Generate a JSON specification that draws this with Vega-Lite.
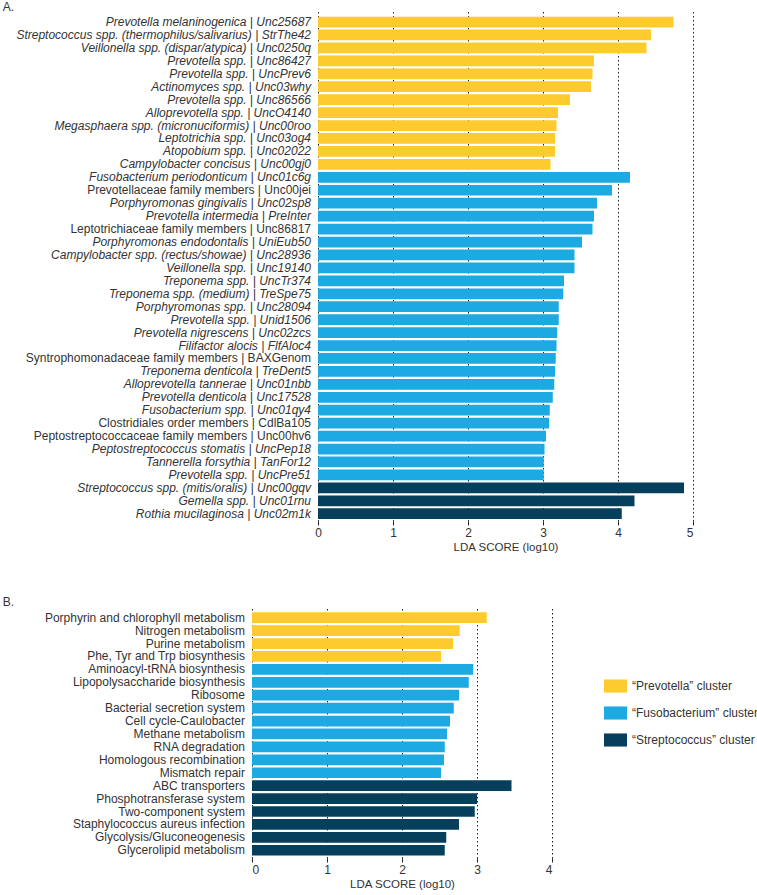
{
  "$schema": "https://vega.github.io/schema/vega-lite/v6.json",
  "padding": {"left": 2, "top": 1, "right": 2, "bottom": 2},
  "config": {
    "font": "Liberation Sans",
    "view": {"stroke": null},
    "axis": {
      "grid": true,
      "gridColor": "#222222",
      "gridDash": [1.5, 2.5],
      "gridWidth": 1,
      "domain": false,
      "ticks": true,
      "tickColor": "#222222",
      "tickSize": 4,
      "labelFontSize": 12,
      "labelColor": "#333333",
      "labelPadding": 2,
      "titleFontSize": 11.5,
      "titleFontWeight": "normal",
      "titleColor": "#333333",
      "titlePadding": 3
    }
  },
  "datasets": {
    "taxa": [
      {"label": "Prevotella melaninogenica | Unc25687", "lda": 4.74, "cluster": "“Prevotella” cluster", "kind": "species"},
      {"label": "Streptococcus spp. (thermophilus/salivarius) | StrThe42", "lda": 4.44, "cluster": "“Prevotella” cluster", "kind": "species"},
      {"label": "Veillonella spp. (dispar/atypica) | Unc0250q", "lda": 4.38, "cluster": "“Prevotella” cluster", "kind": "species"},
      {"label": "Prevotella spp. | Unc86427", "lda": 3.68, "cluster": "“Prevotella” cluster", "kind": "species"},
      {"label": "Prevotella spp. | UncPrev6", "lda": 3.66, "cluster": "“Prevotella” cluster", "kind": "species"},
      {"label": "Actinomyces spp. | Unc03why", "lda": 3.64, "cluster": "“Prevotella” cluster", "kind": "species"},
      {"label": "Prevotella spp. | Unc86566", "lda": 3.36, "cluster": "“Prevotella” cluster", "kind": "species"},
      {"label": "Alloprevotella spp. | UncO4140", "lda": 3.2, "cluster": "“Prevotella” cluster", "kind": "species"},
      {"label": "Megasphaera spp. (micronuciformis) | Unc00roo", "lda": 3.18, "cluster": "“Prevotella” cluster", "kind": "species"},
      {"label": "Leptotrichia spp. | Unc03og4", "lda": 3.16, "cluster": "“Prevotella” cluster", "kind": "species"},
      {"label": "Atopobium spp. | Unc02022", "lda": 3.16, "cluster": "“Prevotella” cluster", "kind": "species"},
      {"label": "Campylobacter concisus | Unc00gj0", "lda": 3.1, "cluster": "“Prevotella” cluster", "kind": "species"},
      {"label": "Fusobacterium periodonticum | Unc01c6g", "lda": 4.16, "cluster": "“Fusobacterium” cluster", "kind": "species"},
      {"label": "Prevotellaceae family members | Unc00jei", "lda": 3.92, "cluster": "“Fusobacterium” cluster", "kind": "group"},
      {"label": "Porphyromonas gingivalis | Unc02sp8", "lda": 3.72, "cluster": "“Fusobacterium” cluster", "kind": "species"},
      {"label": "Prevotella intermedia | PreInter", "lda": 3.68, "cluster": "“Fusobacterium” cluster", "kind": "species"},
      {"label": "Leptotrichiaceae family members | Unc86817", "lda": 3.66, "cluster": "“Fusobacterium” cluster", "kind": "group"},
      {"label": "Porphyromonas endodontalis | UniEub50", "lda": 3.52, "cluster": "“Fusobacterium” cluster", "kind": "species"},
      {"label": "Campylobacter spp. (rectus/showae) | Unc28936", "lda": 3.42, "cluster": "“Fusobacterium” cluster", "kind": "species"},
      {"label": "Veillonella spp. | Unc19140", "lda": 3.42, "cluster": "“Fusobacterium” cluster", "kind": "species"},
      {"label": "Treponema spp. | UncTr374", "lda": 3.28, "cluster": "“Fusobacterium” cluster", "kind": "species"},
      {"label": "Treponema spp. (medium) | TreSpe75", "lda": 3.27, "cluster": "“Fusobacterium” cluster", "kind": "species"},
      {"label": "Porphyromonas spp. | Unc28094", "lda": 3.21, "cluster": "“Fusobacterium” cluster", "kind": "species"},
      {"label": "Prevotella spp. | Unid1506", "lda": 3.21, "cluster": "“Fusobacterium” cluster", "kind": "species"},
      {"label": "Prevotella nigrescens | Unc02zcs", "lda": 3.19, "cluster": "“Fusobacterium” cluster", "kind": "species"},
      {"label": "Filifactor alocis | FlfAloc4", "lda": 3.18, "cluster": "“Fusobacterium” cluster", "kind": "species"},
      {"label": "Syntrophomonadaceae family members | BAXGenom", "lda": 3.17, "cluster": "“Fusobacterium” cluster", "kind": "group"},
      {"label": "Treponema denticola | TreDent5", "lda": 3.16, "cluster": "“Fusobacterium” cluster", "kind": "species"},
      {"label": "Alloprevotella tannerae | Unc01nbb", "lda": 3.15, "cluster": "“Fusobacterium” cluster", "kind": "species"},
      {"label": "Prevotella denticola | Unc17528", "lda": 3.13, "cluster": "“Fusobacterium” cluster", "kind": "species"},
      {"label": "Fusobacterium spp. | Unc01qy4", "lda": 3.09, "cluster": "“Fusobacterium” cluster", "kind": "species"},
      {"label": "Clostridiales order members | CdlBa105", "lda": 3.08, "cluster": "“Fusobacterium” cluster", "kind": "group"},
      {"label": "Peptostreptococcaceae family members | Unc00hv6", "lda": 3.04, "cluster": "“Fusobacterium” cluster", "kind": "group"},
      {"label": "Peptostreptococcus stomatis | UncPep18", "lda": 3.02, "cluster": "“Fusobacterium” cluster", "kind": "species"},
      {"label": "Tannerella forsythia | TanFor12", "lda": 3.01, "cluster": "“Fusobacterium” cluster", "kind": "species"},
      {"label": "Prevotella spp. | UncPre51", "lda": 3.01, "cluster": "“Fusobacterium” cluster", "kind": "species"},
      {"label": "Streptococcus spp. (mitis/oralis) | Unc00gqv", "lda": 4.88, "cluster": "“Streptococcus” cluster", "kind": "species"},
      {"label": "Gemella spp. | Unc01rnu", "lda": 4.22, "cluster": "“Streptococcus” cluster", "kind": "species"},
      {"label": "Rothia mucilaginosa | Unc02m1k", "lda": 4.05, "cluster": "“Streptococcus” cluster", "kind": "species"}
    ],
    "paths": [
      {"label": "Porphyrin and chlorophyll metabolism", "lda": 3.13, "cluster": "“Prevotella” cluster"},
      {"label": "Nitrogen metabolism", "lda": 2.77, "cluster": "“Prevotella” cluster"},
      {"label": "Purine metabolism", "lda": 2.68, "cluster": "“Prevotella” cluster"},
      {"label": "Phe, Tyr and Trp biosynthesis", "lda": 2.52, "cluster": "“Prevotella” cluster"},
      {"label": "Aminoacyl-tRNA biosynthesis", "lda": 2.95, "cluster": "“Fusobacterium” cluster"},
      {"label": "Lipopolysaccharide biosynthesis", "lda": 2.89, "cluster": "“Fusobacterium” cluster"},
      {"label": "Ribosome", "lda": 2.76, "cluster": "“Fusobacterium” cluster"},
      {"label": "Bacterial secretion system", "lda": 2.69, "cluster": "“Fusobacterium” cluster"},
      {"label": "Cell cycle-Caulobacter", "lda": 2.64, "cluster": "“Fusobacterium” cluster"},
      {"label": "Methane metabolism", "lda": 2.6, "cluster": "“Fusobacterium” cluster"},
      {"label": "RNA degradation", "lda": 2.57, "cluster": "“Fusobacterium” cluster"},
      {"label": "Homologous recombination", "lda": 2.56, "cluster": "“Fusobacterium” cluster"},
      {"label": "Mismatch repair", "lda": 2.52, "cluster": "“Fusobacterium” cluster"},
      {"label": "ABC transporters", "lda": 3.46, "cluster": "“Streptococcus” cluster"},
      {"label": "Phosphotransferase system", "lda": 3.0, "cluster": "“Streptococcus” cluster"},
      {"label": "Two-component system", "lda": 2.97, "cluster": "“Streptococcus” cluster"},
      {"label": "Staphylococcus aureus infection", "lda": 2.76, "cluster": "“Streptococcus” cluster"},
      {"label": "Glycolysis/Gluconeogenesis", "lda": 2.59, "cluster": "“Streptococcus” cluster"},
      {"label": "Glycerolipid metabolism", "lda": 2.57, "cluster": "“Streptococcus” cluster"}
    ]
  },
  "resolve": {"legend": {"color": "independent"}},
  "spacing": 43,
  "vconcat": [
    {
      "title": {"text": "A.", "anchor": "start", "frame": "group", "offset": -10, "dx": -249.3, "dy": 2, "fontSize": 12, "fontWeight": "normal", "color": "#333333", "baseline": "alphabetic"},
      "width": 441,
      "height": 510,
      "data": {"name": "taxa"},
      "encoding": {
        "y": {"field": "label", "type": "nominal", "sort": null, "axis": null,
              "scale": {"paddingInner": 0.17, "paddingOuter": 0.2915, "align": 0.75}}
      },
      "layer": [
        {
          "mark": {"type": "bar"},
          "encoding": {
            "x": {"field": "lda", "type": "quantitative",
                  "scale": {"domain": [-0.88, 5], "nice": false, "zero": false},
                  "axis": {"values": [0, 1, 2, 3, 4, 5], "format": "d", "title": "LDA SCORE (log10)", "titleX": 253.5}},
            "x2": {"datum": 0},
            "color": {"field": "cluster", "type": "nominal",
                      "scale": {"domain": ["“Prevotella” cluster", "“Fusobacterium” cluster", "“Streptococcus” cluster"], "range": ["#FECB2F", "#1DA9E1", "#063F5C"]},
                      "legend": null}
          }
        },
        {
          "mark": {"type": "text", "align": "right", "baseline": "middle", "dx": -7, "fontSize": 12, "color": "#333333",
                   "fontStyle": {"expr": "datum.kind == 'species' ? 'italic' : 'normal'"}},
          "encoding": {
            "x": {"datum": 0},
            "text": {"field": "label"}
          }
        }
      ]
    },
    {
      "title": {"text": "B.", "anchor": "start", "frame": "group", "offset": -10, "dx": -249.3, "dy": 0, "fontSize": 12, "fontWeight": "normal", "color": "#333333", "baseline": "alphabetic"},
      "width": 300,
      "height": 250,
      "data": {"name": "paths"},
      "encoding": {
        "y": {"field": "label", "type": "nominal", "sort": null, "axis": null,
              "scale": {"paddingInner": 0.17, "paddingOuter": 0.26, "align": 0.646}}
      },
      "layer": [
        {
          "mark": {"type": "bar"},
          "encoding": {
            "x": {"field": "lda", "type": "quantitative",
                  "scale": {"domain": [0, 4], "nice": false},
                  "axis": {"values": [0, 1, 2, 3, 4], "format": "d", "title": "LDA SCORE (log10)"}},
            "x2": {"datum": 0},
            "color": {"field": "cluster", "type": "nominal",
                      "scale": {"domain": ["“Prevotella” cluster", "“Fusobacterium” cluster", "“Streptococcus” cluster"], "range": ["#FECB2F", "#1DA9E1", "#063F5C"]},
                      "legend": {"title": null, "orient": "none", "legendX": 352, "legendY": 66.5,
                                 "symbolType": "M-1,-0.57L1,-0.57L1,0.57L-1,0.57Z", "symbolSize": 529,
                                 "symbolStrokeWidth": 0, "symbolOpacity": 1,
                                 "labelFontSize": 12, "labelColor": "#333333", "labelOffset": 5,
                                 "rowPadding": 8, "padding": 0}}
          }
        },
        {
          "mark": {"type": "text", "align": "right", "baseline": "middle", "dx": -7, "fontSize": 12, "color": "#333333"},
          "encoding": {
            "x": {"datum": 0},
            "text": {"field": "label"}
          }
        }
      ]
    }
  ]
}
